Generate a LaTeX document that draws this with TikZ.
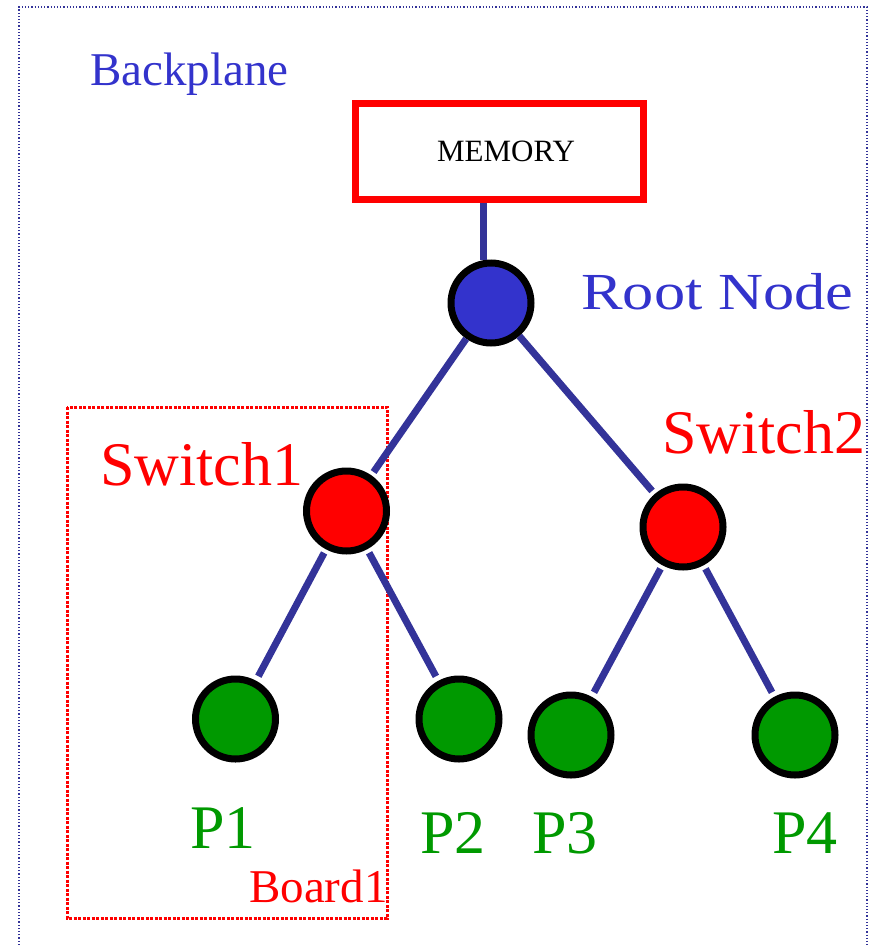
\documentclass[tikz,border=0pt]{standalone}
\usepackage{fontspec}
\setmainfont{Liberation Serif}

\definecolor{planeblue}{HTML}{3333CC}
\definecolor{wireblue}{HTML}{333399}
\definecolor{pgreen}{HTML}{009900}

\begin{document}
\begin{tikzpicture}[x=1pt,y=-1pt,
  ball/.style={circle,draw=black,line width=7pt,minimum size=80pt,inner sep=0pt},
  wire/.style={draw=wireblue,line width=7pt},
  txt/.style={anchor=base west,inner sep=0pt},
  big/.style={font=\fontsize{62}{62}\selectfont}]

\useasboundingbox (0,0) rectangle (875,945);

\draw [wireblue,line width=1.3pt,dash pattern=on 1.3pt off 1.9pt] (19,945) -- (19,7) -- (867,7) -- (867,945);
\draw [red,line width=3pt,dash pattern=on 3pt off 1.5pt] (67,407) rectangle (387,918);

\node[draw=red,line width=7pt,minimum width=288pt,minimum height=96pt,font=\fontsize{31}{31}\selectfont] (mem) at (499.5,151) {\hspace*{13pt}MEMORY};

\node[ball,fill=planeblue] (root) at (491,303) {};
\node[ball,fill=red] (sw1) at (346.5,511) {};
\node[ball,fill=red] (sw2) at (683,527) {};
\node[ball,fill=pgreen] (p1) at (235.5,719) {};
\node[ball,fill=pgreen] (p2) at (459,719) {};
\node[ball,fill=pgreen] (p3) at (571,735) {};
\node[ball,fill=pgreen] (p4) at (795,735) {};

\draw [wire] ([xshift=-16.5pt]mem.south) -- ([xshift=-8pt]root.north);
\draw [wire,shorten >=4pt] (root) -- (sw1);
\draw [wire,shorten >=4pt] (root) -- (sw2);
\draw [wire,shorten <=4pt,shorten >=5pt] (sw1) -- (p1);
\draw [wire,shorten <=4pt,shorten >=5pt] (sw1) -- (p2);
\draw [wire,shorten <=4pt,shorten >=5pt] (sw2) -- (p3);
\draw [wire,shorten <=4pt,shorten >=5pt] (sw2) -- (p4);

\node[txt,text=planeblue,font=\fontsize{47}{47}\selectfont] (bplane) at (90,85) {Backplane};
\node[txt,text=planeblue,font=\fontsize{52}{52}\selectfont] (rootlbl) at (581,309) {\scalebox{1.2}[1]{Root Node}};
\node[txt,big,text=red] (sw1lbl) at (100,485) {Switch1};
\node[txt,big,text=red] (sw2lbl) at (662,453) {Switch2};
\node[txt,big,text=pgreen] (p1lbl) at (190,848) {P1};
\node[txt,big,text=pgreen] (p2lbl) at (420,853) {P2};
\node[txt,big,text=pgreen] (p3lbl) at (532,853) {P3};
\node[txt,big,text=pgreen] (p4lbl) at (772,853) {P4};
\node[txt,text=red,font=\fontsize{47}{47}\selectfont] (board) at (249,902) {Board1};

\end{tikzpicture}
\end{document}
